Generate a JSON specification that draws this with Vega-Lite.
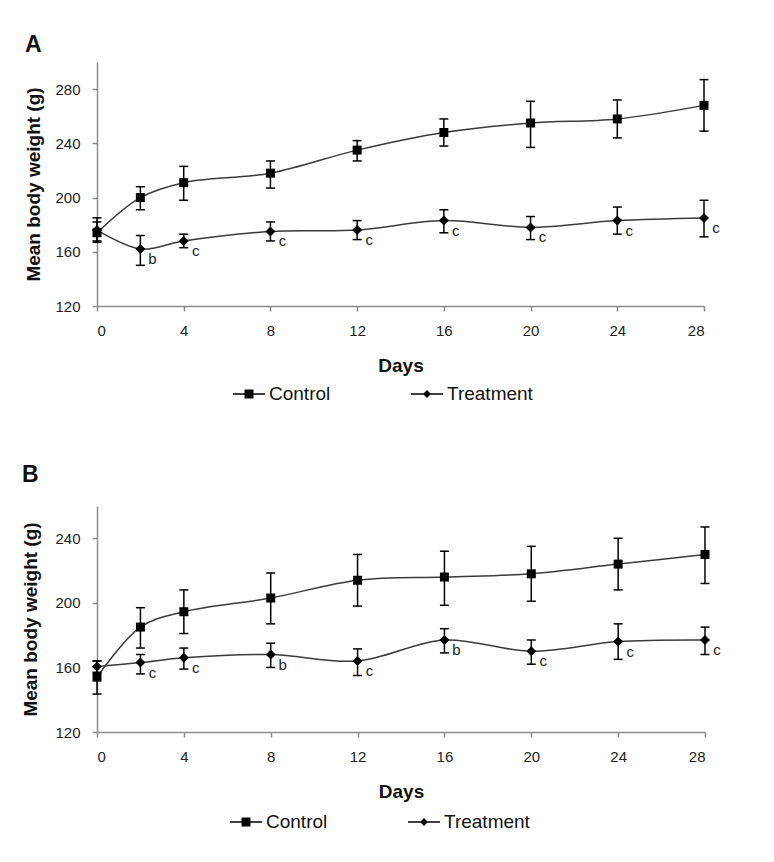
{
  "$schema": "https://vega.github.io/schema/vega-lite/v6.json",
  "padding": {"left": 21, "top": 34, "right": 10, "bottom": 5},
  "background": "white",
  "spacing": 60,
  "resolve": {"scale": {"shape": "independent"}, "legend": {"shape": "independent"}},
  "config": {
    "font": "Liberation Sans",
    "view": {"stroke": null},
    "axis": {
      "grid": false,
      "domainColor": "#8c8c8c",
      "domainWidth": 1.5,
      "tickColor": "#8c8c8c",
      "tickWidth": 1.5,
      "tickSize": 5,
      "labelFont": "Liberation Sans",
      "labelFontSize": 15,
      "labelColor": "#222222",
      "labelPadding": 12,
      "titleFont": "Liberation Sans",
      "titleFontSize": 19,
      "titleFontWeight": "bold",
      "titleColor": "#111111"
    },
    "legend": {"padding": 0},
    "title": {"anchor": "start", "frame": "bounds", "fontSize": 23, "fontWeight": "bold", "font": "Liberation Sans", "color": "#111111", "baseline": "alphabetic"}
  },
  "datasets": {
    "d": [
      {"panel": "A", "group": "Control", "day": 0, "mean": 174, "lo": 167, "hi": 182, "label": ""},
      {"panel": "A", "group": "Control", "day": 2, "mean": 200, "lo": 191, "hi": 208, "label": ""},
      {"panel": "A", "group": "Control", "day": 4, "mean": 211, "lo": 198, "hi": 223, "label": ""},
      {"panel": "A", "group": "Control", "day": 8, "mean": 218, "lo": 207, "hi": 227, "label": ""},
      {"panel": "A", "group": "Control", "day": 12, "mean": 235, "lo": 227, "hi": 242, "label": ""},
      {"panel": "A", "group": "Control", "day": 16, "mean": 248, "lo": 238, "hi": 258, "label": ""},
      {"panel": "A", "group": "Control", "day": 20, "mean": 255, "lo": 237, "hi": 271, "label": ""},
      {"panel": "A", "group": "Control", "day": 24, "mean": 258, "lo": 244, "hi": 272, "label": ""},
      {"panel": "A", "group": "Control", "day": 28, "mean": 268, "lo": 249, "hi": 287, "label": ""},
      {"panel": "A", "group": "Treatment", "day": 0, "mean": 176, "lo": 168, "hi": 185, "label": ""},
      {"panel": "A", "group": "Treatment", "day": 2, "mean": 162, "lo": 150, "hi": 172, "label": "b"},
      {"panel": "A", "group": "Treatment", "day": 4, "mean": 168, "lo": 163, "hi": 173, "label": "c"},
      {"panel": "A", "group": "Treatment", "day": 8, "mean": 175, "lo": 168, "hi": 182, "label": "c"},
      {"panel": "A", "group": "Treatment", "day": 12, "mean": 176, "lo": 169, "hi": 183, "label": "c"},
      {"panel": "A", "group": "Treatment", "day": 16, "mean": 183, "lo": 174, "hi": 191, "label": "c"},
      {"panel": "A", "group": "Treatment", "day": 20, "mean": 178, "lo": 169, "hi": 186, "label": "c"},
      {"panel": "A", "group": "Treatment", "day": 24, "mean": 183, "lo": 173, "hi": 193, "label": "c"},
      {"panel": "A", "group": "Treatment", "day": 28, "mean": 185, "lo": 171, "hi": 198, "label": "c"},
      {"panel": "B", "group": "Control", "day": 0, "mean": 154, "lo": 143.5, "hi": 164, "label": ""},
      {"panel": "B", "group": "Control", "day": 2, "mean": 185, "lo": 172, "hi": 197, "label": ""},
      {"panel": "B", "group": "Control", "day": 4, "mean": 194.5, "lo": 181, "hi": 208, "label": ""},
      {"panel": "B", "group": "Control", "day": 8, "mean": 203, "lo": 187, "hi": 218.5, "label": ""},
      {"panel": "B", "group": "Control", "day": 12, "mean": 214, "lo": 198, "hi": 230, "label": ""},
      {"panel": "B", "group": "Control", "day": 16, "mean": 216, "lo": 198.5, "hi": 232, "label": ""},
      {"panel": "B", "group": "Control", "day": 20, "mean": 218, "lo": 201, "hi": 235, "label": ""},
      {"panel": "B", "group": "Control", "day": 24, "mean": 224, "lo": 208, "hi": 240, "label": ""},
      {"panel": "B", "group": "Control", "day": 28, "mean": 230, "lo": 212, "hi": 247, "label": ""},
      {"panel": "B", "group": "Treatment", "day": 0, "mean": 160.5, "lo": 157, "hi": 164, "label": ""},
      {"panel": "B", "group": "Treatment", "day": 2, "mean": 163, "lo": 156, "hi": 168, "label": "c"},
      {"panel": "B", "group": "Treatment", "day": 4, "mean": 166, "lo": 159, "hi": 172, "label": "c"},
      {"panel": "B", "group": "Treatment", "day": 8, "mean": 168, "lo": 160, "hi": 175, "label": "b"},
      {"panel": "B", "group": "Treatment", "day": 12, "mean": 164, "lo": 155, "hi": 171.5, "label": "c"},
      {"panel": "B", "group": "Treatment", "day": 16, "mean": 177, "lo": 169, "hi": 184, "label": "b"},
      {"panel": "B", "group": "Treatment", "day": 20, "mean": 170, "lo": 162, "hi": 177, "label": "c"},
      {"panel": "B", "group": "Treatment", "day": 24, "mean": 176, "lo": 165, "hi": 187, "label": "c"},
      {"panel": "B", "group": "Treatment", "day": 28, "mean": 177, "lo": 168, "hi": 185, "label": "c"}
    ]
  },
  "vconcat": [
    {
      "title": {"text": "A", "offset": 5},
      "width": 607,
      "height": 244,
      "data": {"name": "d"},
      "transform": [{"filter": "datum.panel === 'A'"}],
      "encoding": {
        "x": {"field": "day", "type": "quantitative", "scale": {"domain": [0, 28], "nice": false, "zero": false},
              "axis": {"values": [0, 4, 8, 12, 16, 20, 24, 28], "title": "Days", "titlePadding": 18}}
      },
      "layer": [
        {
          "mark": {"type": "line", "interpolate": "catmull-rom", "color": "#3a3a3a", "strokeWidth": 1.5},
          "encoding": {
            "y": {"field": "mean", "type": "quantitative", "scale": {"domain": [120, 300], "nice": false, "zero": false},
                  "axis": {"values": [120, 160, 200, 240, 280], "title": "Mean body weight (g)", "titlePadding": 11}},
            "detail": {"field": "group"}
          }
        },
        {
          "mark": {"type": "rule", "color": "black", "strokeWidth": 1.5},
          "encoding": {"y": {"field": "lo", "type": "quantitative"}, "y2": {"field": "hi"}}
        },
        {
          "mark": {"type": "point", "shape": "M-1,0L1,0", "size": 81, "filled": false, "color": "black", "strokeWidth": 1.5, "opacity": 1},
          "encoding": {"y": {"field": "lo", "type": "quantitative"}}
        },
        {
          "mark": {"type": "point", "shape": "M-1,0L1,0", "size": 81, "filled": false, "color": "black", "strokeWidth": 1.5, "opacity": 1},
          "encoding": {"y": {"field": "hi", "type": "quantitative"}}
        },
        {
          "transform": [{"filter": "datum.group === 'Treatment'"}],
          "mark": {"type": "point", "shape": "M-1,0L0,-1L1,0L0,1Z", "filled": true, "color": "black", "opacity": 1, "size": 100, "strokeWidth": 0},
          "encoding": {"y": {"field": "mean", "type": "quantitative"}}
        },
        {
          "transform": [{"filter": "datum.group === 'Control'"}],
          "mark": {"type": "point", "shape": "M-0.9,-0.9L0.9,-0.9L0.9,0.9L-0.9,0.9Z", "filled": true, "color": "black", "opacity": 1, "size": 100, "strokeWidth": 0},
          "encoding": {"y": {"field": "mean", "type": "quantitative"}}
        },
        {
          "transform": [{"filter": "datum.label != ''"}],
          "mark": {"type": "text", "dx": 12, "dy": 15, "fontSize": 15, "font": "Liberation Sans", "color": "#222222", "baseline": "alphabetic"},
          "encoding": {"y": {"field": "mean", "type": "quantitative"}, "text": {"field": "label"}}
        },
        {
          "transform": [{"filter": "datum.day < 0"}],
          "mark": {"type": "point", "filled": true, "color": "black", "opacity": 1, "strokeWidth": 0},
          "encoding": {
            "y": {"field": "mean", "type": "quantitative"},
            "shape": {"field": "group", "type": "nominal",
              "scale": {"domain": ["Control", "Treatment"], "range": [
                "M-1,-0.047L1,-0.047L1,0.047L-1,0.047Z M-0.28,-0.28L0.28,-0.28L0.28,0.28L-0.28,0.28Z",
                "M-1,-0.047L1,-0.047L1,0.047L-1,0.047Z M-0.25,0L0,-0.25L0.25,0L0,0.25Z"]},
              "legend": {
                "title": null, "orient": "none", "direction": "horizontal", "legendX": 136, "legendY": 316,
                "symbolSize": 1024, "symbolFillColor": "black", "symbolStrokeWidth": 0, "symbolOpacity": 1,
                "labelFontSize": 19, "labelFont": "Liberation Sans", "labelColor": "#111111",
                "labelOffset": 4, "columnPadding": 80
              }
            }
          }
        }
      ]
    },
    {
      "title": {"text": "B", "offset": 19},
      "width": 608,
      "height": 226,
      "data": {"name": "d"},
      "transform": [{"filter": "datum.panel === 'B'"}],
      "encoding": {
        "x": {"field": "day", "type": "quantitative", "scale": {"domain": [0, 28], "nice": false, "zero": false},
              "axis": {"values": [0, 4, 8, 12, 16, 20, 24, 28], "title": "Days", "titlePadding": 18}}
      },
      "layer": [
        {
          "mark": {"type": "line", "interpolate": "catmull-rom", "color": "#3a3a3a", "strokeWidth": 1.5},
          "encoding": {
            "y": {"field": "mean", "type": "quantitative", "scale": {"domain": [120, 260], "nice": false, "zero": false},
                  "axis": {"values": [120, 160, 200, 240], "title": "Mean body weight (g)", "titlePadding": 14}},
            "detail": {"field": "group"}
          }
        },
        {
          "mark": {"type": "rule", "color": "black", "strokeWidth": 1.5},
          "encoding": {"y": {"field": "lo", "type": "quantitative"}, "y2": {"field": "hi"}}
        },
        {
          "mark": {"type": "point", "shape": "M-1,0L1,0", "size": 81, "filled": false, "color": "black", "strokeWidth": 1.5, "opacity": 1},
          "encoding": {"y": {"field": "lo", "type": "quantitative"}}
        },
        {
          "mark": {"type": "point", "shape": "M-1,0L1,0", "size": 81, "filled": false, "color": "black", "strokeWidth": 1.5, "opacity": 1},
          "encoding": {"y": {"field": "hi", "type": "quantitative"}}
        },
        {
          "transform": [{"filter": "datum.group === 'Control'"}],
          "mark": {"type": "point", "shape": "M-0.9,-0.9L0.9,-0.9L0.9,0.9L-0.9,0.9Z", "filled": true, "color": "black", "opacity": 1, "size": 100, "strokeWidth": 0},
          "encoding": {"y": {"field": "mean", "type": "quantitative"}}
        },
        {
          "transform": [{"filter": "datum.group === 'Treatment'"}],
          "mark": {"type": "point", "shape": "M-1,0L0,-1L1,0L0,1Z", "filled": true, "color": "black", "opacity": 1, "size": 100, "strokeWidth": 0},
          "encoding": {"y": {"field": "mean", "type": "quantitative"}}
        },
        {
          "transform": [{"filter": "datum.label != ''"}],
          "mark": {"type": "text", "dx": 12, "dy": 15, "fontSize": 15, "font": "Liberation Sans", "color": "#222222", "baseline": "alphabetic"},
          "encoding": {"y": {"field": "mean", "type": "quantitative"}, "text": {"field": "label"}}
        },
        {
          "transform": [{"filter": "datum.day < 0"}],
          "mark": {"type": "point", "filled": true, "color": "black", "opacity": 1, "strokeWidth": 0},
          "encoding": {
            "y": {"field": "mean", "type": "quantitative"},
            "shape": {"field": "group", "type": "nominal",
              "scale": {"domain": ["Control", "Treatment"], "range": [
                "M-1,-0.047L1,-0.047L1,0.047L-1,0.047Z M-0.28,-0.28L0.28,-0.28L0.28,0.28L-0.28,0.28Z",
                "M-1,-0.047L1,-0.047L1,0.047L-1,0.047Z M-0.25,0L0,-0.25L0.25,0L0,0.25Z"]},
              "legend": {
                "title": null, "orient": "none", "direction": "horizontal", "legendX": 133, "legendY": 300,
                "symbolSize": 1024, "symbolFillColor": "black", "symbolStrokeWidth": 0, "symbolOpacity": 1,
                "labelFontSize": 19, "labelFont": "Liberation Sans", "labelColor": "#111111",
                "labelOffset": 4, "columnPadding": 80
              }
            }
          }
        }
      ]
    }
  ]
}
